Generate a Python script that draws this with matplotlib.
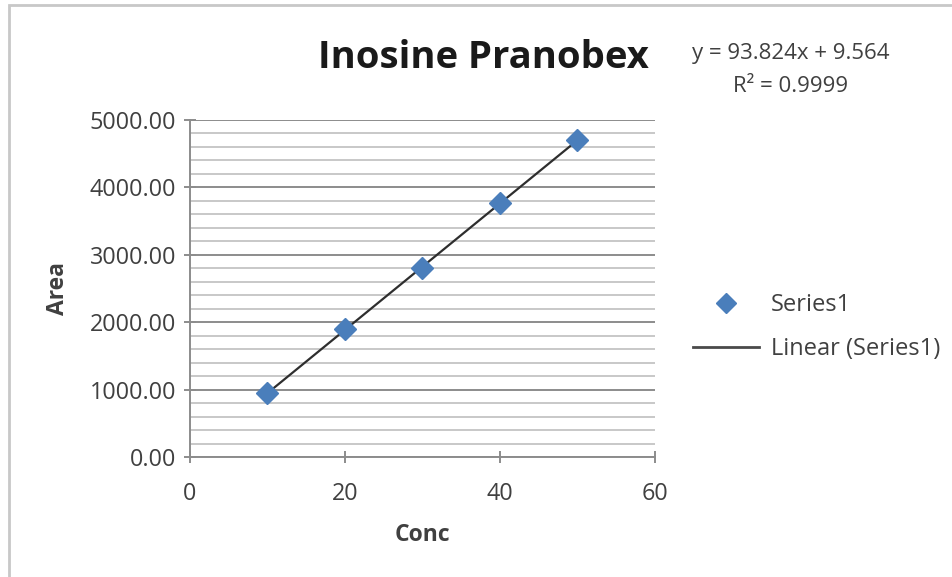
import matplotlib
matplotlib.use('Agg')
import matplotlib.pyplot as plt
from matplotlib.lines import Line2D
from matplotlib.patches import Rectangle
from matplotlib.ticker import MultipleLocator, FormatStrFormatter

plt.rcParams['font.family'] = ['Open Sans', 'DejaVu Sans']

# data
conc = [10, 20, 30, 40, 50]
area = [948, 1895, 2810, 3762, 4705]
slope = 93.824
intercept = 9.564
r2 = 0.9999

fig = plt.figure(figsize=(9.53, 5.77), dpi=100)

# outer chart frame
fig.patches.append(Rectangle((9 / 953, -0.05), 1.1, 1 - 5 / 577 + 0.05,
                             transform=fig.transFigure, fill=False,
                             edgecolor='#c8c8c8', linewidth=2))

ax = fig.add_axes([190 / 953, 1 - 457 / 577, 465 / 953, 337 / 577])

ax.set_xlim(0, 60)
ax.set_ylim(0, 5000)
ax.xaxis.set_major_locator(MultipleLocator(20))
ax.yaxis.set_major_locator(MultipleLocator(1000))
ax.yaxis.set_minor_locator(MultipleLocator(200))
ax.yaxis.set_major_formatter(FormatStrFormatter('%.2f'))

ax.grid(which='major', axis='y', color='#8c8c8c', linewidth=1.4)
ax.grid(which='minor', axis='y', color='#c4c4c4', linewidth=1.3)
ax.set_axisbelow(True)

for s in ['top', 'right']:
    ax.spines[s].set_visible(False)
for s in ['left', 'bottom']:
    ax.spines[s].set_color('#8c8c8c')
    ax.spines[s].set_linewidth(1.4)

ax.tick_params(axis='both', which='major', direction='inout', length=8,
               color='#8c8c8c', width=1.4, labelsize=16.8, labelcolor='#404040')
ax.tick_params(axis='y', which='minor', left=False)
ax.tick_params(axis='y', pad=6)
ax.tick_params(axis='x', pad=14)

# trendline over the data range
xs = [conc[0], conc[-1]]
ax.plot(xs, [slope * v + intercept for v in xs], color='#2e2e2e', linewidth=1.6,
        zorder=3)
ax.plot(conc, area, linestyle='none', marker='D', markersize=11,
        color='#4a7ebb', markeredgecolor='#4a7ebb', zorder=4)

ax.set_xlabel('Conc', fontsize=16.5, fontweight='bold', color='#404040', labelpad=12)
ax.set_ylabel('Area', fontsize=16.5, fontweight='bold', color='#404040', labelpad=14)

fig.text(483 / 953, 1 - 58 / 577, 'Inosine Pranobex', fontsize=27.5,
         fontweight='bold', ha='center', va='center', color='#1a1a1a')

fig.text(791 / 953, 1 - 53 / 577, 'y = %.3fx + %.3f' % (slope, intercept),
         fontsize=16, ha='center', va='center', color='#404040')
fig.text(791 / 953, 1 - 86 / 577, 'R² = %.4f' % r2,
         fontsize=16, ha='center', va='center', color='#404040')

handles = [Line2D([], [], linestyle='none', marker='D', markersize=10,
                  color='#4a7ebb'),
           Line2D([], [], color='#4a4a4a', linewidth=2)]
fig.legend(handles, ['Series1', 'Linear (Series1)'], loc='center left',
           bbox_to_anchor=(693 / 953, 1 - 327 / 577), frameon=False,
           borderaxespad=0, borderpad=0,
           fontsize=17, handlelength=2.8, handletextpad=0.5, labelspacing=0.85,
           labelcolor='#404040')

fig.savefig('out.png', dpi=100)
